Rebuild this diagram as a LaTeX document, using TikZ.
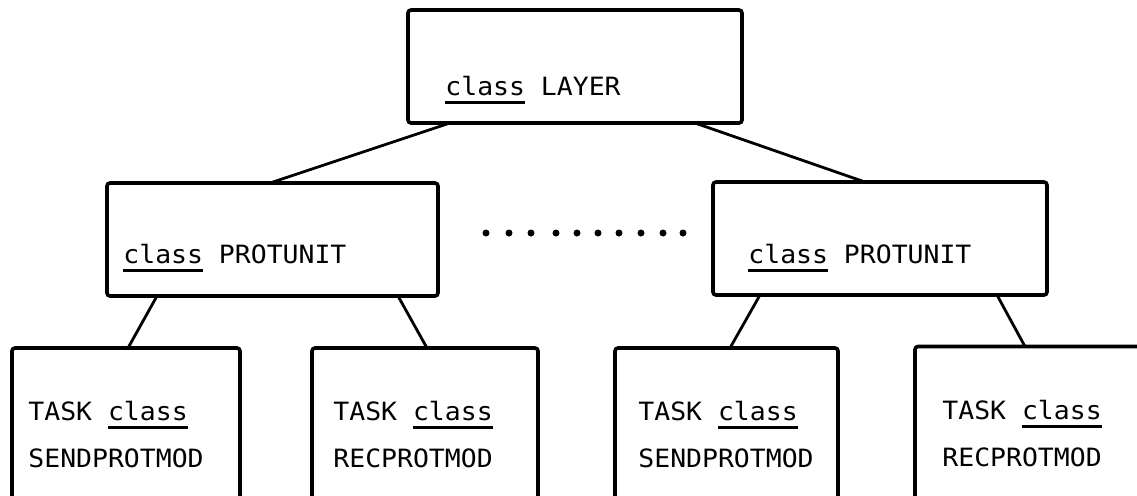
\documentclass[tikz,border=0pt]{standalone}
\usepackage{fontspec}
\newfontfamily\tw[FakeStretch=1.05]{DejaVu Sans Mono}
\usetikzlibrary{calc}
% keyword with a heavy underline
\newsavebox\kwbox
\newcommand\kwul[1]{\sbox\kwbox{#1}\rlap{\rule[-4.4pt]{\wd\kwbox}{1.6pt}}\usebox\kwbox}
\begin{document}
\begin{tikzpicture}[x=0.5pt,y=-0.5pt,
  box/.style={draw, line width=1.8pt, rounded corners=1.5pt, inner sep=0pt, outer sep=0pt},
  link/.style={line width=1.4pt},
  txt/.style={anchor=base west, inner sep=0pt, font={\tw\fontsize{12.6pt}{15pt}\selectfont}}]
\clip (0,0) rectangle (1137,495);
\fill[white] (0,0) rectangle (1137,495);

% class hierarchy boxes
\node[box, minimum width=167pt, minimum height=56.5pt] (layer) at (575,66.5) {};
\node[box, minimum width=165.5pt, minimum height=56.5pt] (pu1) at (272.5,239.5) {};
\node[box, minimum width=167pt, minimum height=56.5pt] (pu2) at (880,238.5) {};
\node[box, minimum width=114pt, minimum height=106pt] (t1) at (126,454) {};
\node[box, minimum width=113pt, minimum height=106pt] (t2) at (425,454) {};
\node[box, minimum width=111.5pt, minimum height=106pt] (t3) at (726.5,454) {};
\node[box, minimum width=122.5pt, minimum height=106pt] (t4) at (1037.5,452.5) {};

% labels
\node[txt] (layer-l) at (445,95) {\kwul{class} LAYER};
\node[txt] (pu1-l) at (123,263) {\kwul{class} PROTUNIT};
\node[txt] (pu2-l) at (748,263) {\kwul{class} PROTUNIT};
\node[txt] (t1-a) at (28,420) {TASK \kwul{class}};
\node[txt] (t1-b) at (28,467) {SENDPROTMOD};
\node[txt] (t2-a) at (333,420) {TASK \kwul{class}};
\node[txt] (t2-b) at (333,467) {RECPROTMOD};
\node[txt] (t3-a) at (638,420) {TASK \kwul{class}};
\node[txt] (t3-b) at (638,467) {SENDPROTMOD};
\node[txt] (t4-a) at (942,419) {TASK \kwul{class}};
\node[txt] (t4-b) at (942,466) {RECPROTMOD};

% tree connectors
\draw[link] ($(layer.south west)+(42,0)$) -- ($(pu1.north west)+(163,0)$);
\draw[link] ($(layer.south west)+(287,0)$) -- ($(pu2.north west)+(152,0)$);
\draw[link] ($(pu1.south west)+(50,0)$) -- ($(t1.north west)+(116,0)$);
\draw[link] ($(pu1.south west)+(291,0)$) -- ($(t2.north west)+(115,0)$);
\draw[link] ($(pu2.south west)+(47,0)$) -- ($(t3.north west)+(115,0)$);
\draw[link] ($(pu2.south west)+(284,0)$) -- ($(t4.north west)+(110,0)$);

% ellipsis between the protocol units
\foreach \x in {486,509,531,556,577,598,619,641,663,683}
  \fill (\x,233) circle[radius=3.5];
\end{tikzpicture}
\end{document}
